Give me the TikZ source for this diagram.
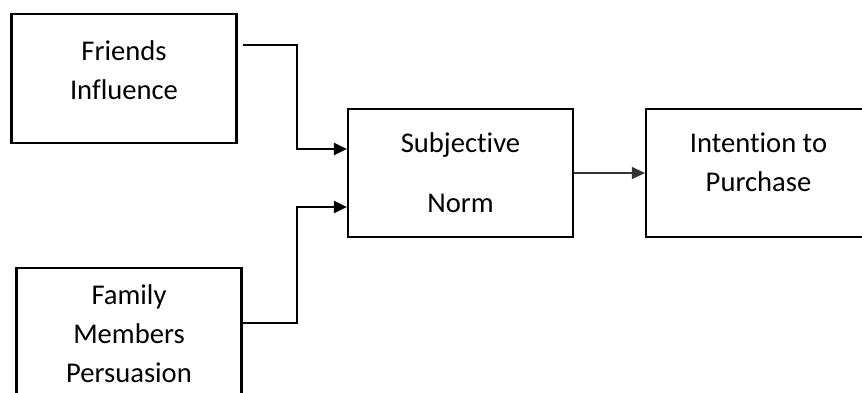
\documentclass[tikz,border=0pt]{standalone}
\usepackage{fontspec}
\setmainfont{Carlito}[RawFeature={-liga,-dlig}]
\usetikzlibrary{calc}
\usetikzlibrary{arrows.meta}
\tikzset{ factor/.style = {rectangle, draw, line width=1.1pt, align=center, minimum width=112.5pt, font=\fontsize{14.3}{19.5}\selectfont} }
\tikzset{ link/.style = {line width=1.1pt, -{Triangle[length=6.5pt,width=6pt]}} }

\begin{document}
\begin{tikzpicture}[x=0.5pt,y=-0.5pt]
        \clip (0,0) rectangle (862,392);
                \node [style=factor, minimum height=64.5pt, text depth=8pt] (fr) at (124,78.5) {Friends\\Influence};
                \node [style=factor, minimum height=68pt, text depth=2pt] (fm) at (129,336) {Family\\Members\\Persuasion};
                \node [style=factor, minimum height=64pt] (sn) at (460.5,173) {Subjective\\[10.5pt]Norm};
                \node [style=factor, minimum height=64pt, text depth=11pt] (ip) at (758.5,173) {Intention to\\Purchase};
                \draw[style=link] ($(fr.north east)+(5,32)$) -- ++(54,0) |- ($(sn.west)+(0,-24)$);
                \draw[style=link] ($(fm.east)+(0,-13)$) -- ++(54,0) |- ($(sn.west)+(0,34)$);
                \draw[style=link, line width=0.6pt, draw=black!80] (sn) -- (ip);
        \end{tikzpicture}
\end{document}
